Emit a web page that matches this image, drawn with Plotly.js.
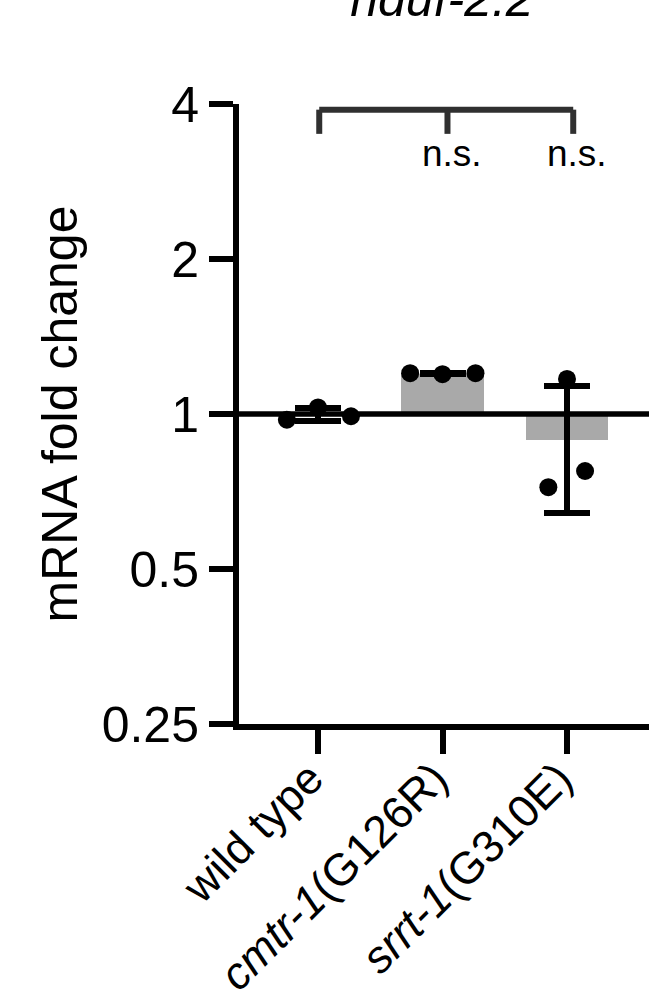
<!DOCTYPE html>
<html>
<head>
<meta charset="utf-8">
<script src="https://cdn.plot.ly/plotly-3.0.1.min.js"></script>
<style>html,body{margin:0;padding:0;background:#fff;}#chart{width:670px;height:999px;}</style>
</head>
<body>
<div id="chart"></div>
<script>
// ---- data ----
const categories = ["wild type", "cmtr-1(G126R)", "srrt-1(G310E)"];
const tickLabels = ["wild type", "<i>cmtr-1</i>(G126R)", "<i>srrt-1</i>(G310E)"];
const wildType = [0.975, 1.03, 0.99];
const cmtr1 = [1.20, 1.195, 1.20];
const srrt1 = [1.17, 0.721, 0.775];
const yTickVals = [0.25, 0.5, 1, 2, 4];
const yTickText = ["0.25", "0.5", "1", "2", "4"];
const sigLabels = ["n.s.", "n.s."];
const baselineValue = 1;

// ---- layout / style constants ----
const jitter = [[-0.25, 0, 0.265], [-0.26, 0, 0.265], [0, -0.15, 0.145]];
const FONT = "Liberation Sans, Arial, Helvetica, sans-serif";

const groups = [wildType, cmtr1, srrt1];
const mean = a => a.reduce((s, v) => s + v, 0) / a.length;
const sd = a => { const m = mean(a); return Math.sqrt(a.reduce((s, v) => s + (v - m) * (v - m), 0) / (a.length - 1)); };
const means = groups.map(mean);
const sds = groups.map(sd);
const idx = categories.map((c, i) => i);

const bars = {
  type: "bar",
  x: idx,
  base: means.map(() => baselineValue),
  y: means.map(m => m - baselineValue),
  width: 0.66,
  marker: { color: "#a9a9a9", line: { width: 0 } },
  error_y: { type: "data", array: sds, visible: true, color: "#000", thickness: 6, width: 23 },
  hoverinfo: "skip",
  showlegend: false
};

const px = [], py = [];
groups.forEach((g, i) => g.forEach((v, j) => { px.push(i + jitter[i][j]); py.push(v); }));
const points = {
  type: "scatter",
  mode: "markers",
  x: px,
  y: py,
  marker: { color: "#000", size: 18, line: { width: 0 } },
  cliponaxis: false,
  showlegend: false
};

const bracketColor = "#303030";
const bracketTop = 3.9, bracketLeg = 3.5;
const legX = [0.01, 1.04, 2.05];
const shapes = [
  { type: "line", xref: "paper", x0: 0, x1: 1, yref: "y", y0: baselineValue, y1: baselineValue,
    line: { color: "#000", width: 5.5 }, layer: "above" },
  { type: "line", xref: "x", x0: legX[0], x1: legX[2], yref: "y", y0: bracketTop, y1: bracketTop,
    line: { color: bracketColor, width: 6 }, layer: "above" }
].concat(legX.map(x => ({ type: "line", xref: "x", x0: x, x1: x, yref: "y", y0: bracketTop, y1: bracketLeg,
    line: { color: bracketColor, width: 6 }, layer: "above" })));

const annotations = sigLabels.map((t, i) => ({
  text: t, xref: "x", x: i + 1 + 0.08, yref: "y", y: Math.log10(3.2),
  showarrow: false, xanchor: "center", yanchor: "middle",
  font: { family: FONT, size: 37, color: "#000" }
}));

const layout = {
  width: 670, height: 999,
  margin: { l: 239, r: 21, t: 104, b: 275, pad: 0 },
  paper_bgcolor: "#fff", plot_bgcolor: "#fff",
  font: { family: FONT, color: "#000" },
  title: { text: "<i>nduf-2.2</i>", xref: "paper", x: 0.495, xanchor: "center",
           yref: "container", y: 0.984, yanchor: "bottom",
           font: { family: FONT, size: 50, color: "#000" } },
  xaxis: {
    range: [-0.6345, 2.6586], showgrid: false, zeroline: false,
    showline: true, linecolor: "#000", linewidth: 6,
    ticks: "outside", ticklen: 24, tickwidth: 6, tickcolor: "#000",
    tickvals: idx, ticktext: tickLabels, tickangle: -45,
    ticklabelstandoff: -20, ticklabelshift: -8,
    tickfont: { family: FONT, size: 45, color: "#000" }
  },
  yaxis: {
    type: "log", range: [Math.log10(0.25), Math.log10(4)],
    showgrid: false, zeroline: false,
    showline: true, linecolor: "#000", linewidth: 6,
    ticks: "outside", ticklen: 24, tickwidth: 5.5, tickcolor: "#000",
    tickvals: yTickVals, ticktext: yTickText,
    tickfont: { family: FONT, size: 50, color: "#000" },
    title: { text: "mRNA fold change", standoff: 10, font: { family: FONT, size: 50, color: "#000" } }
  },
  shapes: shapes,
  annotations: annotations,
  bargap: 0,
  showlegend: false
};

Plotly.newPlot("chart", [bars, points], layout, { displayModeBar: false, staticPlot: true });
</script>
</body>
</html>
